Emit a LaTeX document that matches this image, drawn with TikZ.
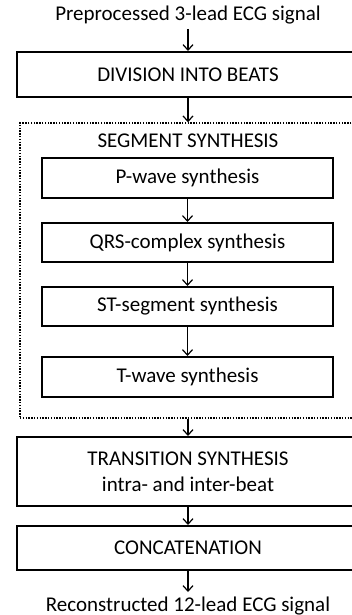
\documentclass[tikz,border=0pt]{standalone}
\usepackage{fontspec}
\setmainfont{Carlito}
\usetikzlibrary{arrows.meta}
\begin{document}
\begin{tikzpicture}[x=1pt,y=-1pt,
  every node/.style={font=\fontsize{21}{25}\selectfont, inner sep=0pt},
  mainbox/.style={draw, line width=2pt, minimum width=342pt},
  subbox/.style={draw, line width=2pt, minimum width=291.5pt},
  groupbox/.style={draw, line width=1.4pt, dash pattern=on 1.4pt off 1.4pt, minimum width=336pt, minimum height=295pt},
  flow/.style={line width=1.2pt, -{Straight Barb[length=5.5pt,width=10pt,line width=1.2pt]}}
]
\useasboundingbox (0,0) rectangle (351,615);

% input and output signals
\node[anchor=base] (inp) at (188,21) {Preprocessed 3-lead ECG signal};
\node[anchor=base] (outp) at (188,611) {Reconstructed 12-lead ECG signal};

% main processing stages
\node[mainbox, minimum height=45pt] (div) at (188,74.5) {DIVISION INTO BEATS};
\node[groupbox] (seg) at (188,270.5) {};
\node (segtitle) at (188,141) {SEGMENT SYNTHESIS};
\node[subbox, minimum height=40pt] (pw) at (187.5,178) {P-wave synthesis};
\node[subbox, minimum height=39pt] (qrs) at (187.5,242.5) {QRS-complex synthesis};
\node[subbox, minimum height=39pt] (st) at (187.5,306.5) {ST-segment synthesis};
\node[subbox, minimum height=40pt] (tw) at (187.5,377) {T-wave synthesis};
\node[mainbox, minimum height=69pt, align=center] (trans) at (188,471.5)
  {TRANSITION SYNTHESIS\\[1pt]intra- and inter-beat};
\node[mainbox, minimum height=44pt] (cat) at (188,548) {CONCATENATION};

% connectors
\coordinate (inpend) at (188,29);
\coordinate (outstart) at (188,592);
\draw[flow] (inpend) -- (div.north -| inpend);
\draw[flow] (div.south -| inpend) -- (seg.north -| inpend);
\draw[flow] (pw.south) -- (qrs.north);
\draw[flow] (qrs.south) -- (st.north);
\draw[flow] (st.south) -- (tw.north);
\draw[flow] (seg.south -| inpend) -- (trans.north -| inpend);
\draw[flow] (trans.south -| inpend) -- (cat.north -| inpend);
\draw[flow] (cat.south -| inpend) -- (outstart);
\end{tikzpicture}
\end{document}
